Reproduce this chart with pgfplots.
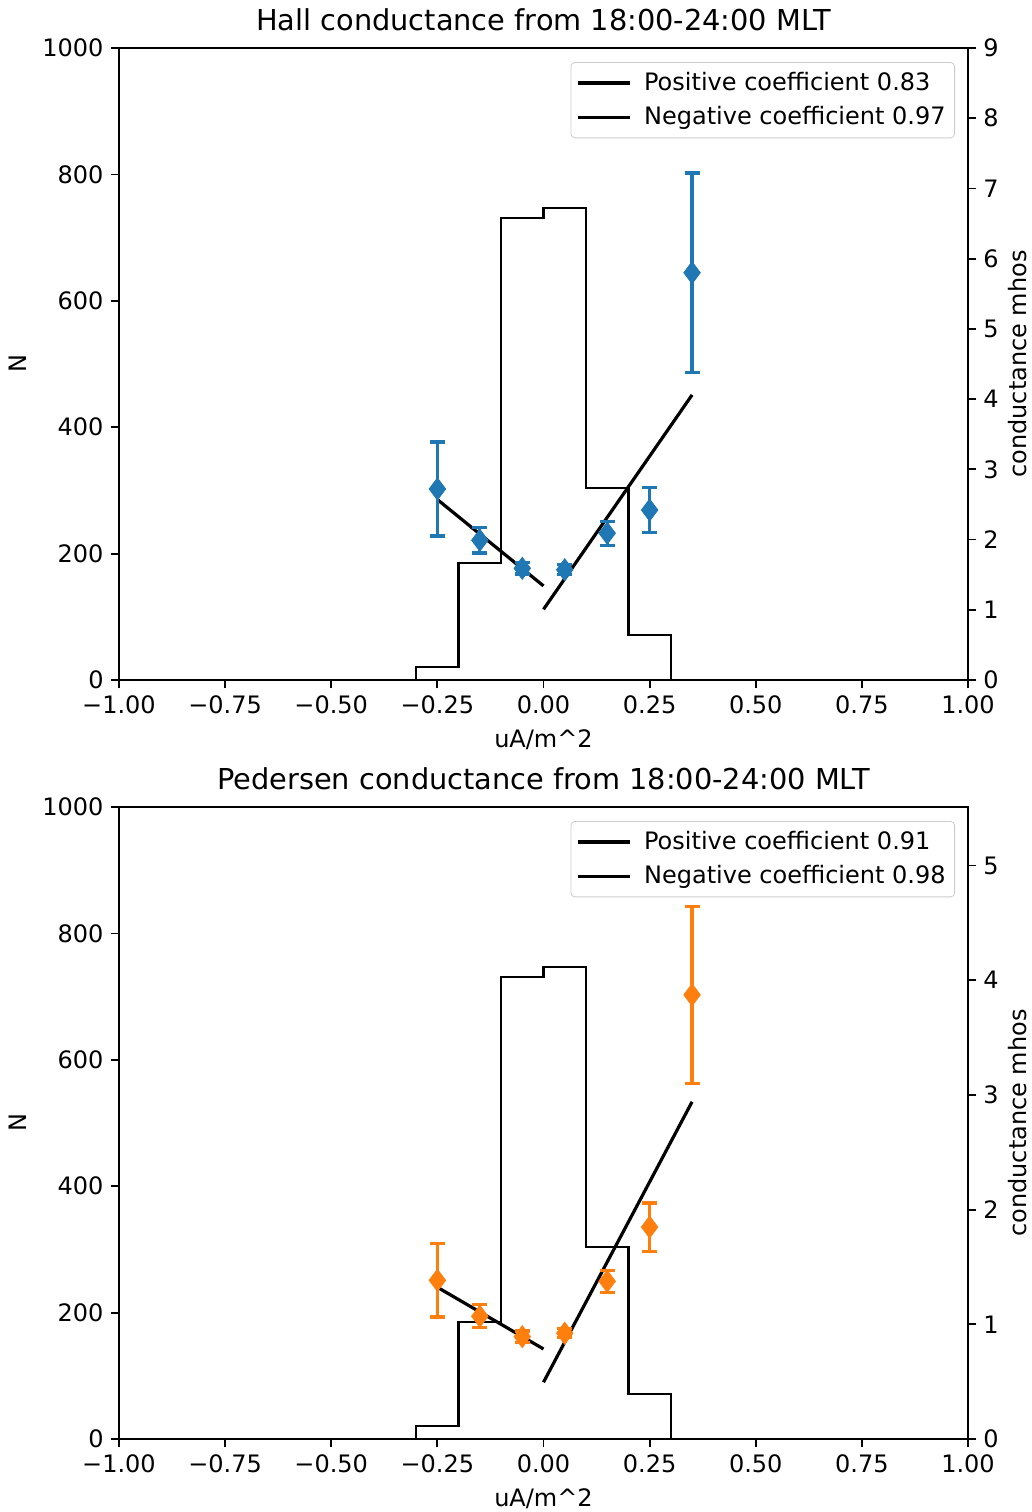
\documentclass[border=0pt]{standalone}
\usepackage{fontspec}
\setmainfont{DejaVu Sans}
\usepackage{pgfplots}
\pgfplotsset{compat=1.18}
\definecolor{c0}{HTML}{1F77B4}
\definecolor{c1}{HTML}{FF7F0E}

\pgfplotsset{
  base/.style={
    width=424.5pt, height=316pt, scale only axis,
    xmin=-1, xmax=1,
    tick align=outside, major tick length=4.2pt,
    every tick/.style={black, line width=0.9pt},
    axis line style={line width=0.9pt},
    tick label style={font=\fontsize{12}{14}\selectfont},
    label style={font=\fontsize{12}{14}\selectfont},
    /pgf/number format/assume math mode=true,
    /pgf/number format/1000 sep={},
  },
  leftax/.style={base,
    xtick pos=left, ytick pos=left,
    xtick={-1,-0.75,-0.5,-0.25,0,0.25,0.5,0.75,1},
    xticklabels={−1.00,−0.75,−0.50,−0.25,0.00,0.25,0.50,0.75,1.00},
    ymin=0, ymax=1000, ytick={0,200,...,1000},
    ylabel={N}, xlabel={uA/m\textasciicircum 2},
    ylabel style={at={(axis description cs:-0.119,0.5)}, anchor=center},
    xlabel style={at={(axis description cs:0.5,-0.094)}, anchor=center},
    title style={at={(axis description cs:0.5,1.0252)}, anchor=center,
      font=\fontsize{14.4}{16}\selectfont},
  },
  rightax/.style={base,
    axis x line=none, axis y line*=right, ytick pos=right,
    ymin=0, ylabel={conductance mhos},
    ylabel style={at={(axis description cs:1.058,0.5)}, anchor=center},
    legend cell align=left,
    legend image code/.code={\draw[##1] (0pt,0pt) -- (26pt,0pt); \path (30.5pt,0pt);},
    legend style={at={(1,1)}, anchor=north east, xshift=-6.5pt, yshift=-7pt,
      draw=black!20, rounded corners=2pt, fill=white, fill opacity=0.8, text opacity=1,
      font=\fontsize{12}{14}\selectfont, inner xsep=2.5pt, inner ysep=3pt, row sep=2.5pt},
  },
  fit/.style={black, line width=1.6pt},
  hist/.style={black, line width=1.1pt, const plot},
  pts/.style={forget plot, #1, only marks, mark=diamond*, mark size=5.5pt,
    error bars/.cd, y dir=both, y explicit,
    error bar style={line width=1.6pt, #1},
    error mark options={rotate=90, mark size=3.75pt, line width=1.6pt, #1}},
}

\begin{document}
\begin{tikzpicture}
\useasboundingbox (-59.5pt,-416pt) rectangle (456.5pt,340pt);

% Hall
\begin{axis}[leftax, at={(0,0)}, anchor=south west,
  title={Hall conductance from 18:00-24:00 MLT}]
  \addplot[hist] coordinates {(-0.3,0) (-0.3,20) (-0.2,185) (-0.1,731) (0,747) (0.1,304) (0.2,71) (0.3,71) (0.3,0)};
\end{axis}
\begin{axis}[rightax, at={(0,0)}, anchor=south west, ymax=9, ytick={0,...,9}]
  \addplot[fit] coordinates {(0,1.006) (0.35,4.06)};
  \addlegendentry{Positive coefficient 0.83}
  \addplot[fit] coordinates {(-0.25,2.57) (0,1.34)};
  \addlegendentry{Negative coefficient 0.97}
  \addplot[pts=c0] coordinates {
    (-0.25,2.72) +- (0,0.67)
    (-0.15,1.99) +- (0,0.18)
    (-0.05,1.59) +- (0,0.08)
    (0.05,1.57) +- (0,0.07)
    (0.15,2.09) +- (0,0.17)
    (0.25,2.42) +- (0,0.32)
    (0.35,5.80) +- (0,1.42)
  };
\end{axis}

% Pedersen
\begin{axis}[leftax, at={(0,-379.5pt)}, anchor=south west,
  title={Pedersen conductance from 18:00-24:00 MLT}]
  \addplot[hist] coordinates {(-0.3,0) (-0.3,20) (-0.2,185) (-0.1,731) (0,747) (0.1,304) (0.2,71) (0.3,71) (0.3,0)};
\end{axis}
\begin{axis}[rightax, at={(0,-379.5pt)}, anchor=south west, ymax=5.51, ytick={0,...,5}]
  \addplot[fit] coordinates {(0,0.495) (0.35,2.94)};
  \addlegendentry{Positive coefficient 0.91}
  \addplot[fit] coordinates {(-0.25,1.323) (0,0.785)};
  \addlegendentry{Negative coefficient 0.98}
  \addplot[pts=c1] coordinates {
    (-0.25,1.384) +- (0,0.32)
    (-0.15,1.07) +- (0,0.10)
    (-0.05,0.892) +- (0,0.05)
    (0.05,0.922) +- (0,0.04)
    (0.15,1.375) +- (0,0.095)
    (0.25,1.848) +- (0,0.21)
    (0.35,3.872) +- (0,0.77)
  };
\end{axis}
\end{tikzpicture}
\end{document}
